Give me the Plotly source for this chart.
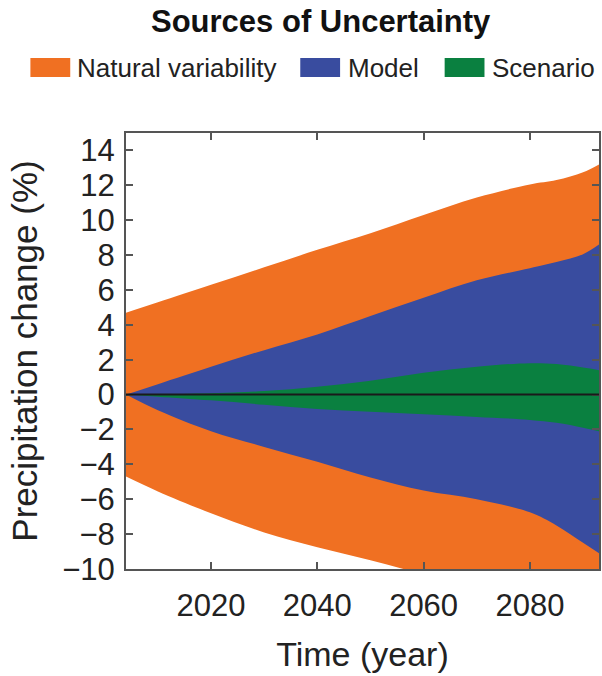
import plotly.graph_objects as go

# Projected precipitation change: uncertainty envelopes by source (%)
years = [2004, 2010, 2020, 2030, 2040, 2050, 2060, 2070, 2080, 2085, 2090, 2093]

natural_upper = [4.7, 5.3, 6.3, 7.3, 8.3, 9.25, 10.3, 11.3, 12.05, 12.3, 12.75, 13.2]
natural_lower = [-4.7, -5.55, -6.8, -7.9, -8.75, -9.5, -10.3, -11.0, -11.6, -12.0, -12.3, -12.5]

model_upper = [0.0, 0.6, 1.6, 2.55, 3.45, 4.5, 5.55, 6.55, 7.25, 7.6, 8.05, 8.6]
model_lower = [0.0, -0.9, -2.1, -3.0, -3.85, -4.75, -5.5, -6.0, -6.75, -7.5, -8.5, -9.1]

scenario_upper = [0.0, 0.02, 0.08, 0.2, 0.45, 0.8, 1.25, 1.6, 1.8, 1.75, 1.55, 1.4]
scenario_lower = [0.0, -0.12, -0.33, -0.58, -0.82, -0.98, -1.12, -1.28, -1.45, -1.62, -1.9, -2.1]

source_names = ["Natural variability", "Model", "Scenario"]
source_colors = ["#F07022", "#394C9F", "#0A8040"]

x_ticks = [2020, 2040, 2060, 2080]
y_ticks = list(range(-10, 15, 2))

FONT = "Arial, Liberation Sans, Helvetica, sans-serif"
W, H = 602, 676
L, R, T, B = 126, 1, 133, 107
plot_w, plot_h = W - L - R, H - T - B


def px_x(px):
    return (px - L) / plot_w


def px_y(py):
    return (H - B - py) / plot_h


fig = go.Figure()

bands = [
    (natural_lower, natural_upper, source_colors[0]),
    (model_lower, model_upper, source_colors[1]),
    (scenario_lower, scenario_upper, source_colors[2]),
]
for lower, upper, color in bands:
    fig.add_trace(go.Scatter(
        x=years, y=lower, mode="lines",
        line=dict(width=0, shape="spline", color=color),
        showlegend=False, hoverinfo="skip",
    ))
    fig.add_trace(go.Scatter(
        x=years, y=upper, mode="lines", fill="tonexty",
        fillcolor=color, line=dict(width=0, shape="spline", color=color),
        showlegend=False, hoverinfo="skip",
    ))

axis_style = dict(
    showline=True, linecolor="#555555", linewidth=2, mirror="ticks",
    ticks="inside", ticklen=7, tickwidth=2, tickcolor="#555555",
    showgrid=False, zeroline=False,
    tickfont=dict(family=FONT, size=31, color="#222222"),
)

fig.update_xaxes(
    range=[2004, 2093], tickvals=x_ticks, ticklabelstandoff=8,
    title=dict(text="Time (year)", font=dict(family=FONT, size=34, color="#222222"), standoff=20),
    **axis_style,
)
fig.update_yaxes(
    range=[-10, 15], tickvals=y_ticks, ticklabelstandoff=3,
    title=dict(text="Precipitation change (%)", font=dict(family=FONT, size=35, color="#222222"), standoff=14),
    **axis_style,
)

shapes = [
    dict(type="line", xref="paper", x0=0, x1=1, yref="y", y0=0, y1=0,
         line=dict(color="#1a1a1a", width=2), layer="above"),
]
annotations = [
    dict(text="<b>Sources of Uncertainty</b>", xref="paper", yref="paper",
         x=px_x(322), y=px_y(22), xanchor="center", yanchor="middle",
         showarrow=False, font=dict(family=FONT, size=31, color="#111111")),
]

# Legend: swatch rectangles and labels along the top
swatch_left = [30, 301, 446]
label_left = [75, 347, 492]
for name, color, sx, lx in zip(source_names, source_colors, swatch_left, label_left):
    shapes.append(dict(type="rect", xref="paper", yref="paper",
                       x0=px_x(sx), x1=px_x(sx + 40), y0=px_y(77), y1=px_y(58),
                       fillcolor=color, line=dict(width=0)))
    annotations.append(dict(text=name, xref="paper", yref="paper",
                            x=px_x(lx), y=px_y(67.5), xanchor="left", yanchor="middle",
                            showarrow=False, font=dict(family=FONT, size=26, color="#222222")))

fig.update_layout(
    width=W, height=H,
    margin=dict(l=L, r=R, t=T, b=B),
    paper_bgcolor="white", plot_bgcolor="white",
    showlegend=False,
    shapes=shapes, annotations=annotations,
)

fig.write_html("out.html")
